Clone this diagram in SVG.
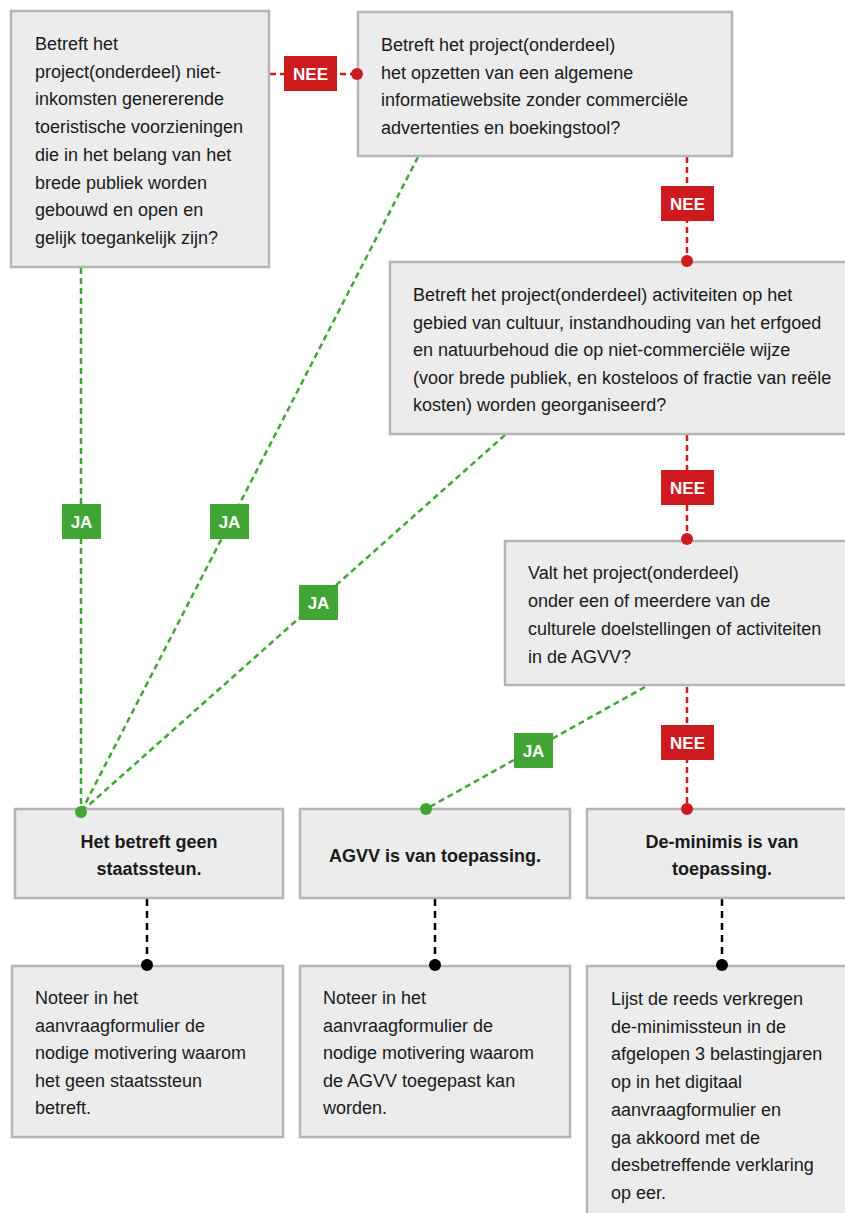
<svg xmlns="http://www.w3.org/2000/svg" width="845" height="1213" viewBox="0 0 845 1213">
<style>
.box{fill:#ececec;stroke:#b5b5b5;stroke-width:2.5}
.t{font-family:"Liberation Sans",Arial,sans-serif;font-size:18px;fill:#1a1a1a}
.b{font-family:"Liberation Sans",Arial,sans-serif;font-size:18px;font-weight:bold;fill:#1a1a1a;text-anchor:middle}
.g{stroke:#41a536;stroke-width:2.5;stroke-dasharray:6 4;fill:none}
.r{stroke:#cc1a1e;stroke-width:2.5;stroke-dasharray:6 4;fill:none}
.k{stroke:#000;stroke-width:2.5;stroke-dasharray:7 5;fill:none}
.lg{fill:#41a536}
.lr{fill:#cc1a1e}
.lt{font-family:"Liberation Sans",Arial,sans-serif;font-size:17px;font-weight:bold;fill:#fff;text-anchor:middle}
</style>
<rect width="845" height="1213" fill="#fff"/>
<g id="connectors">
<line class="g" x1="81" y1="268" x2="81" y2="812"/>
<line class="g" x1="418" y1="157" x2="81" y2="812"/>
<line class="g" x1="505" y1="435" x2="81" y2="812"/>
<line class="g" x1="645" y1="687" x2="426" y2="809"/>
<line class="r" x1="270" y1="74" x2="357" y2="74"/>
<line class="r" x1="687" y1="157" x2="687" y2="261"/>
<line class="r" x1="687" y1="435" x2="687" y2="539"/>
<line class="r" x1="687" y1="687" x2="687" y2="809"/>
<line class="k" x1="147" y1="899" x2="147" y2="965"/>
<line class="k" x1="435" y1="899" x2="435" y2="965"/>
<line class="k" x1="722" y1="899" x2="722" y2="965"/>
</g>
<g id="n1"><rect class="box" x="11" y="11" width="258" height="256"/>
<text class="t" x="35" y="50">Betreft het</text>
<text class="t" x="35" y="77.7">project(onderdeel) niet-</text>
<text class="t" x="35" y="105.4">inkomsten genererende</text>
<text class="t" x="35" y="133.1">toeristische voorzieningen</text>
<text class="t" x="35" y="160.8">die in het belang van het</text>
<text class="t" x="35" y="188.5">brede publiek worden</text>
<text class="t" x="35" y="216.2">gebouwd en open en</text>
<text class="t" x="35" y="243.9">gelijk toegankelijk zijn?</text>
</g>
<g id="n2"><rect class="box" x="358" y="12" width="374" height="144"/>
<text class="t" x="381" y="51">Betreft het project(onderdeel)</text>
<text class="t" x="381" y="78.5">het opzetten van een algemene</text>
<text class="t" x="381" y="106">informatiewebsite zonder commerciële</text>
<text class="t" x="381" y="133.5">advertenties en boekingstool?</text>
</g>
<g id="n3"><rect class="box" x="390" y="262" width="470" height="172"/>
<text class="t" x="413" y="301">Betreft het project(onderdeel) activiteiten op het</text>
<text class="t" x="413" y="328.5">gebied van cultuur, instandhouding van het erfgoed</text>
<text class="t" x="413" y="356">en natuurbehoud die op niet-commerciële wijze</text>
<text class="t" x="413" y="383.5">(voor brede publiek, en kosteloos of fractie van reële</text>
<text class="t" x="413" y="411">kosten) worden georganiseerd?</text>
</g>
<g id="n4"><rect class="box" x="505" y="541" width="355" height="144"/>
<text class="t" x="528" y="579">Valt het project(onderdeel)</text>
<text class="t" x="528" y="607">onder een of meerdere van de</text>
<text class="t" x="528" y="635">culturele doelstellingen of activiteiten</text>
<text class="t" x="528" y="663">in de AGVV?</text>
</g>
<g id="r1"><rect class="box" x="15" y="809" width="268" height="89"/>
<text class="b" x="149" y="848">Het betreft geen</text>
<text class="b" x="149" y="875">staatssteun.</text>
</g>
<g id="r2"><rect class="box" x="300" y="809" width="270" height="89"/>
<text class="b" x="435" y="862">AGVV is van toepassing.</text>
</g>
<g id="r3"><rect class="box" x="587" y="809" width="270" height="89"/>
<text class="b" x="722" y="848">De-minimis is van</text>
<text class="b" x="722" y="875">toepassing.</text>
</g>
<g id="a1"><rect class="box" x="12" y="966" width="271" height="171"/>
<text class="t" x="35" y="1004">Noteer in het</text>
<text class="t" x="35" y="1031.6">aanvraagformulier de</text>
<text class="t" x="35" y="1059.2">nodige motivering waarom</text>
<text class="t" x="35" y="1086.8">het geen staatssteun</text>
<text class="t" x="35" y="1114.4">betreft.</text>
</g>
<g id="a2"><rect class="box" x="300" y="966" width="270" height="171"/>
<text class="t" x="323" y="1004">Noteer in het</text>
<text class="t" x="323" y="1031.6">aanvraagformulier de</text>
<text class="t" x="323" y="1059.2">nodige motivering waarom</text>
<text class="t" x="323" y="1086.8">de AGVV toegepast kan</text>
<text class="t" x="323" y="1114.4">worden.</text>
</g>
<g id="a3"><rect class="box" x="587" y="966" width="270" height="260"/>
<text class="t" x="611" y="1005">Lijst de reeds verkregen</text>
<text class="t" x="611" y="1032.7">de-minimissteun in de</text>
<text class="t" x="611" y="1060.4">afgelopen 3 belastingjaren</text>
<text class="t" x="611" y="1088.1">op in het digitaal</text>
<text class="t" x="611" y="1115.8">aanvraagformulier en</text>
<text class="t" x="611" y="1143.5">ga akkoord met de</text>
<text class="t" x="611" y="1171.2">desbetreffende verklaring</text>
<text class="t" x="611" y="1198.9">op eer.</text>
</g>
<g id="ends">
<circle class="lg" cx="81" cy="812" r="6"/>
<circle class="lg" cx="426" cy="809" r="6"/>
<circle class="lr" cx="357" cy="74" r="6"/>
<circle class="lr" cx="687" cy="261" r="6"/>
<circle class="lr" cx="687" cy="539" r="6"/>
<circle class="lr" cx="687" cy="809" r="6"/>
<circle fill="#000" cx="147" cy="965" r="6"/>
<circle fill="#000" cx="435" cy="965" r="6"/>
<circle fill="#000" cx="722" cy="965" r="6"/>
</g>
<g id="labels">
<rect class="lr" x="284" y="56" width="53" height="35"/><text class="lt" x="310.5" y="79.5">NEE</text>
<rect class="lr" x="661" y="186" width="53" height="35"/><text class="lt" x="687.5" y="209.5">NEE</text>
<rect class="lr" x="661" y="470" width="53" height="35"/><text class="lt" x="687.5" y="493.5">NEE</text>
<rect class="lr" x="661" y="725" width="53" height="35"/><text class="lt" x="687.5" y="748.5">NEE</text>
<rect class="lg" x="62" y="504" width="39" height="35"/><text class="lt" x="81.5" y="527.5">JA</text>
<rect class="lg" x="210" y="504" width="39" height="35"/><text class="lt" x="229.5" y="527.5">JA</text>
<rect class="lg" x="299" y="585" width="39" height="35"/><text class="lt" x="318.5" y="608.5">JA</text>
<rect class="lg" x="514" y="733" width="39" height="35"/><text class="lt" x="533.5" y="756.5">JA</text>
</g>
</svg>
